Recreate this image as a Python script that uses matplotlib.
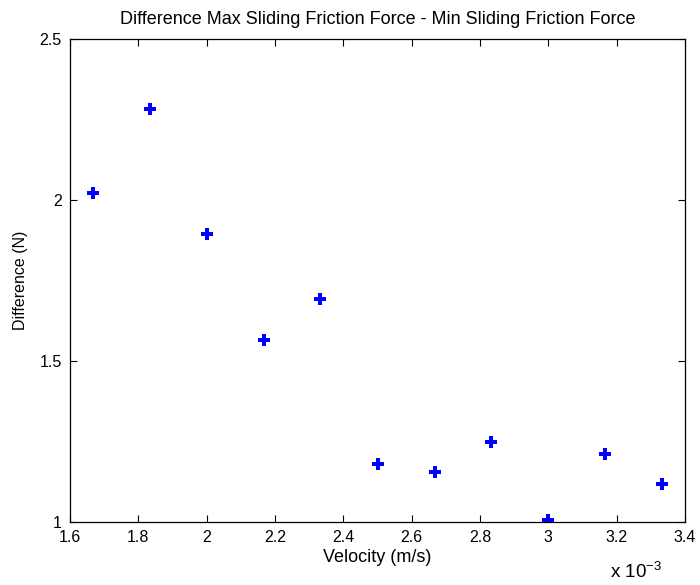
import matplotlib
matplotlib.use('Agg')
import matplotlib.pyplot as plt
from matplotlib.ticker import FuncFormatter

# velocity (m/s) and difference in sliding friction force (N)
velocity = [1.667e-3, 1.833e-3, 2.0e-3, 2.167e-3, 2.333e-3, 2.5e-3,
            2.667e-3, 2.833e-3, 3.0e-3, 3.167e-3, 3.333e-3]
difference = [2.023, 2.283, 1.894, 1.565, 1.694, 1.179,
              1.154, 1.249, 1.006, 1.211, 1.118]

plt.rcParams['font.family'] = ['Liberation Sans', 'DejaVu Sans']

fig = plt.figure(figsize=(7, 5.85), dpi=100)
ax = fig.add_axes([0.1, 0.1077, 0.8786, 0.8256])

ax.plot(velocity, difference, linestyle='none', marker='P', markersize=9,
        color='#0000ff', markeredgewidth=0)

ax.set_xlim(1.6e-3, 3.4e-3)
ax.set_ylim(1.0, 2.5)
ax.set_xticks([1.6e-3 + 0.2e-3 * i for i in range(10)])
ax.set_yticks([1.0, 1.5, 2.0, 2.5])
ax.xaxis.set_major_formatter(FuncFormatter(lambda v, p: f'{v * 1e3:g}'))
ax.yaxis.set_major_formatter(FuncFormatter(lambda v, p: f'{v:g}'))

ax.tick_params(direction='in', top=True, right=True, length=5, width=0.8,
               labelsize=11.5, colors='#000000', pad=6)
for s in ax.spines.values():
    s.set_linewidth(0.9)

ax.set_xlabel('Velocity (m/s)', fontsize=13, labelpad=3)
ax.set_ylabel('Difference (N)', fontsize=11.5, labelpad=8)
ax.set_title('Difference Max Sliding Friction Force - Min Sliding Friction Force',
             fontsize=13, pad=11)

fig.text(0.871, 0.012, r'x 10$^{\mathregular{-3}}$', fontsize=13.5)

fig.savefig('out.png', dpi=100, facecolor='white')
